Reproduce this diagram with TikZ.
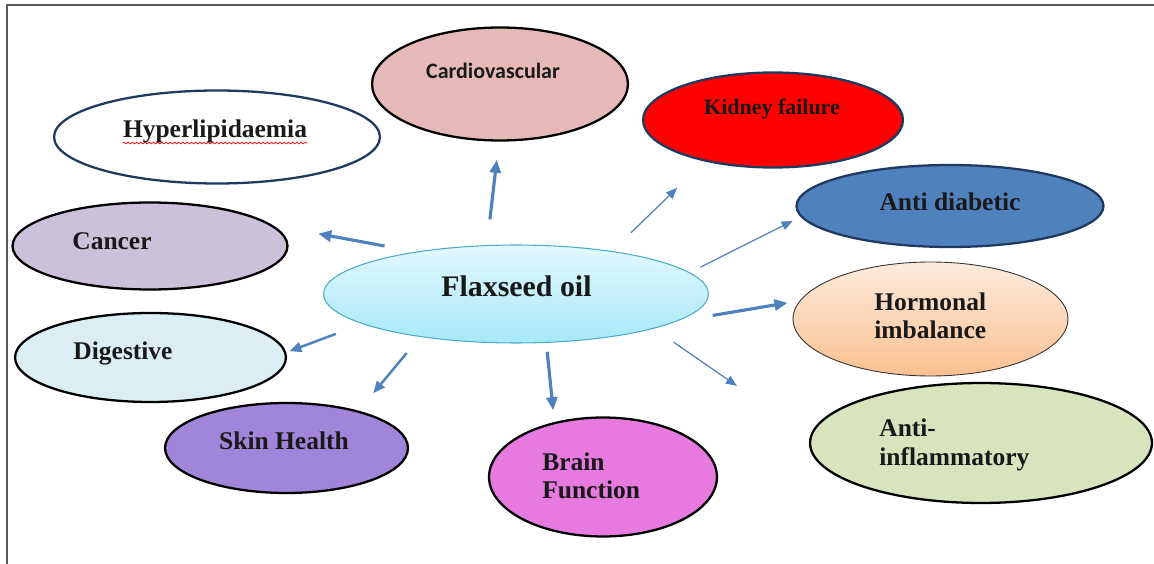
\documentclass[tikz,border=0pt]{standalone}
\usepackage{fontspec}
\setmainfont{Liberation Serif}
\newfontfamily\carlito{Carlito}
\usepackage{tikz}
\usetikzlibrary{shapes,arrows.meta,decorations.pathmorphing}
\usepackage{xcolor}

\definecolor{navy}{HTML}{1F3A60}
\definecolor{cardiopink}{HTML}{E6B9B8}
\definecolor{diabblue}{HTML}{4F81BD}
\definecolor{peachtop}{HTML}{FDEBDD}
\definecolor{peachbot}{HTML}{FAC090}
\definecolor{leafgreen}{HTML}{D7E4BD}
\definecolor{lilac}{HTML}{CCC1DA}
\definecolor{paleblue}{HTML}{DBEEF4}
\definecolor{skinpurple}{HTML}{A085DA}
\definecolor{brainpink}{HTML}{E77ADF}
\definecolor{flaxtop}{HTML}{E2F8FE}
\definecolor{flaxbot}{HTML}{A8E8F8}
\definecolor{flaxedge}{HTML}{4BACC6}
\definecolor{arrowblue}{HTML}{4F81BD}
\definecolor{framecol}{HTML}{595959}

\begin{document}
\begin{tikzpicture}[x=0.02cm,y=-0.02cm,
		bubble/.style={ellipse,draw=black,line width=1.3pt,inner sep=0pt,outer sep=0pt},
		lbl/.style={font=\bfseries\fontsize{14.5}{16.4}\selectfont,inner sep=0pt,align=left,text=black!90},
		lblsmall/.style={font=\bfseries\fontsize{12.5}{14}\selectfont,inner sep=0pt,text=black!90},
		thickarr/.style={-{Triangle[length=0.26cm,width=0.22cm]},arrowblue,line width=1.8pt},
		midarr/.style={-{Triangle[length=0.24cm,width=0.2cm]},arrowblue,line width=1.4pt},
		thinarr/.style={-{Triangle[length=0.22cm,width=0.18cm]},arrowblue,line width=0.7pt}]
		\useasboundingbox (0,0) rectangle (1154,564);
		\draw[framecol,line width=0.8pt] (7,564) -- (7,5) -- (1154,5);

		% ellipses
		\node[bubble,draw=navy,fill=white,minimum width=6.52cm,minimum height=1.86cm] (hyper) at (217,137) {};
		\node[bubble,fill=cardiopink,minimum width=5.12cm,minimum height=2.26cm] (cardio) at (500,84) {};
		\node[bubble,draw=navy,fill=red,minimum width=5.2cm,minimum height=1.9cm] (kidney) at (773,120) {};
		\node[bubble,draw=navy,fill=diabblue,minimum width=6.14cm,minimum height=1.64cm] (antidiab) at (950,206) {};
		\node[bubble,draw=black!80,line width=0.5pt,top color=peachtop,bottom color=peachbot,minimum width=5.5cm,minimum height=2.28cm] (hormonal) at (930.5,319) {};
		\node[bubble,fill=leafgreen,minimum width=6.84cm,minimum height=2.4cm] (antiinfl) at (981,443) {};
		\node[bubble,fill=lilac,minimum width=5.5cm,minimum height=1.74cm] (cancer) at (150,246) {};
		\node[bubble,fill=paleblue,minimum width=5.42cm,minimum height=1.78cm] (digest) at (150.5,357.5) {};
		\node[bubble,fill=skinpurple,minimum width=4.86cm,minimum height=1.8cm] (skin) at (286.5,448) {};
		\node[bubble,fill=brainpink,minimum width=4.56cm,minimum height=2.38cm] (brain) at (603,477) {};
		\node[bubble,draw=flaxedge,line width=0.6pt,top color=flaxtop,bottom color=flaxbot,minimum width=7.7cm,minimum height=1.96cm] (flax) at (516,294) {};

		% labels
		\node[lbl,anchor=base] (hyper-t) at (215,138) {Hyperlipidaemia};
		\draw[red,line width=0.4pt,decorate,decoration={snake,amplitude=0.5pt,segment length=2.4pt}] ([yshift=-0.1cm]hyper-t.base west) -- ([yshift=-0.1cm]hyper-t.base east);
		\node[lblsmall,font=\carlito\bfseries\fontsize{12.5}{14}\selectfont,anchor=base] (cardio-t) at (493,79) {Cardiovascular};
		\node[lblsmall,anchor=base] (kidney-t) at (772,115) {Kidney failure};
		\node[lbl,anchor=base] (antidiab-t) at (950,211) {Anti diabetic};
		\node[lbl,anchor=base west] (hormonal-t) at (874,339) {Hormonal\\imbalance};
		\node[lbl,anchor=base west] (antiinfl-t) at (879,465) {Anti-\\inflammatory};
		\node[lbl,anchor=base] (cancer-t) at (112,250) {Cancer};
		\node[lbl,anchor=base] (digest-t) at (123,360) {Digestive};
		\node[lbl,anchor=base] (skin-t) at (284,450) {Skin Health};
		\node[lbl,anchor=base west] (brain-t) at (542,499) {Brain\\Function};
		\node[lbl,font=\bfseries\fontsize{17}{20}\selectfont,anchor=base] (flax-t) at (516.5,297) {Flaxseed oil};

		% arrows
		\draw[thickarr,shorten <=0.53cm,shorten >=0.39cm] (flax.121) -- (cardio.-91);
		\draw[thickarr,shorten <=0.66cm,shorten >=0.98cm] (flax.157.5) -- (cancer.10.8);
		\draw[thinarr,shorten <=0.54cm,shorten >=0.79cm] (flax.24.3) -- (kidney.211.7);
		\draw[thinarr,shorten <=0.25cm,shorten >=0.2cm] (flax.7.1) -- (antidiab.184.1);
		\draw[thickarr,shorten <=0.78cm,shorten >=0.26cm] (flax.-10.2) -- (hormonal.172.6);
		\draw[thinarr,shorten <=0.49cm,shorten >=1.8cm] (flax.-14.7) -- (antiinfl.178.6);
		\draw[thickarr,shorten <=0.19cm,shorten >=0.26cm] (flax.-58.2) -- (brain.132.1);
		\draw[midarr,shorten <=0.43cm,shorten >=0.48cm] (flax.204.1) -- (skin.27.5);
		\draw[midarr,shorten <=0.58cm,shorten >=0.09cm] (flax.191.4) -- (digest.2.3);
\end{tikzpicture}
\end{document}
